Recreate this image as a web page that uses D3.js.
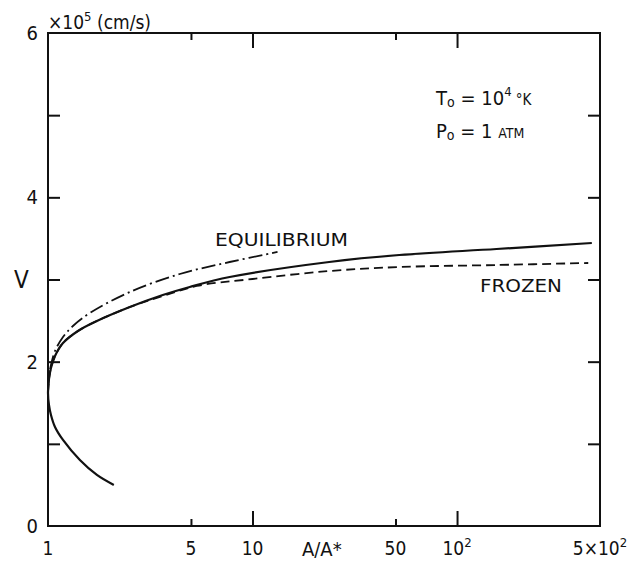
<!DOCTYPE html>
<html>
<head>
<meta charset="utf-8">
<script src="https://cdn.jsdelivr.net/npm/d3@7"></script>
<style>
  html, body { margin: 0; padding: 0; background: #fff; }
  svg { display: block; }
  text { font-family: "DejaVu Sans Condensed", "Liberation Sans Narrow", "Liberation Sans", sans-serif; fill: #111; }
</style>
</head>
<body>
<svg id="chart" width="635" height="562"></svg>
<script>
// Area ratio A/A* (log axis) and velocity V in units of 1e5 cm/s
const xTickValues = [1, 5, 10, 50, 100, 500];
const xTickLabels = ["1", "5", "10", "50", "10²", "5×10²"];
const yTickValues = [0, 1, 2, 3, 4, 5, 6];
const yTickLabels = ["0", "", "2", "", "4", "", "6"];

// Solid curve: subsonic branch, throat, then supersonic branch
const solidRatio = [2.098, 1.734, 1.432, 1.184, 1.082, 1.034, 1.011, 1.0, 1.011, 1.034, 1.082, 1.184, 1.401, 1.734, 2.512, 3.64, 4.93, 7.73, 23.7, 52.2, 156, 456];
const solidV     = [0.499, 0.621, 0.803, 1.047, 1.205, 1.351, 1.473, 1.619, 1.789, 1.923, 2.069, 2.227, 2.373, 2.495, 2.665, 2.811, 2.909, 3.030, 3.213, 3.298, 3.371, 3.444];

// Frozen flow (dashed)
const frozenRatio = [1.0, 1.011, 1.034, 1.082, 1.184, 1.401, 1.734, 2.512, 3.64, 5.33, 10, 23.7, 52.2, 156, 438];
const frozenV     = [1.619, 1.789, 1.923, 2.069, 2.227, 2.373, 2.495, 2.665, 2.799, 2.921, 3.006, 3.103, 3.152, 3.176, 3.201];

// Equilibrium flow (dash-dot)
const equilRatio = [1.0, 1.011, 1.034, 1.082, 1.184, 1.324, 1.603, 2.512, 4.41, 7.73, 13.25];
const equilV     = [1.619, 1.813, 1.959, 2.130, 2.300, 2.434, 2.592, 2.848, 3.067, 3.213, 3.335];

const svg = d3.select("#chart");
const plotLeft = 48, plotRight = 600, plotTop = 33, plotBottom = 526;

const x = d3.scaleLog().domain([1, 500]).range([plotLeft, plotRight]);
const y = d3.scaleLinear().domain([0, 6]).range([plotBottom, plotTop]);

// frame
svg.append("rect")
  .attr("x", plotLeft).attr("y", plotTop)
  .attr("width", plotRight - plotLeft).attr("height", plotBottom - plotTop)
  .attr("fill", "none").attr("stroke", "#111").attr("stroke-width", 2);

// x ticks (inside), long at decades, short at 5 and 50
const xInner = [5, 10, 50, 100];
const tickLen = v => (v === 10 || v === 100) ? 15 : 7;
const bottomAxis = svg.append("g").attr("transform", `translate(0,${plotBottom})`)
  .call(d3.axisBottom(x).tickValues(xInner).tickSize(0).tickFormat(""));
bottomAxis.select(".domain").remove();
bottomAxis.selectAll(".tick line").attr("y2", d => -tickLen(d)).attr("stroke", "#111").attr("stroke-width", 2);

const topAxis = svg.append("g").attr("transform", `translate(0,${plotTop})`)
  .call(d3.axisTop(x).tickValues(xInner).tickSize(0).tickFormat(""));
topAxis.select(".domain").remove();
topAxis.selectAll(".tick line").attr("y2", d => tickLen(d)).attr("stroke", "#111").attr("stroke-width", 2);

// x tick labels
svg.append("g").selectAll("text").data(xTickValues).join("text")
  .attr("x", d => x(d)).attr("y", 555)
  .attr("text-anchor", "middle").attr("font-size", 19)
  .each(function(d, i) {
    const t = d3.select(this);
    const lab = xTickLabels[i];
    if (lab.endsWith("²")) {
      t.append("tspan").text(lab.slice(0, -1));
      t.append("tspan").attr("dy", -8).attr("font-size", 13).text("2");
    } else {
      t.text(lab);
    }
  });

// y ticks (inside) on both sides
const yInner = [1, 2, 3, 4, 5];
const leftAxis = svg.append("g").attr("transform", `translate(${plotLeft},0)`)
  .call(d3.axisLeft(y).tickValues(yInner).tickSize(-12).tickFormat(""));
leftAxis.select(".domain").remove();
leftAxis.selectAll(".tick line").attr("stroke", "#111").attr("stroke-width", 2);

const rightAxis = svg.append("g").attr("transform", `translate(${plotRight},0)`)
  .call(d3.axisRight(y).tickValues(yInner).tickSize(-12).tickFormat(""));
rightAxis.select(".domain").remove();
rightAxis.selectAll(".tick line").attr("stroke", "#111").attr("stroke-width", 2);

// y tick labels
svg.append("g").selectAll("text").data(yTickValues.filter((d, i) => yTickLabels[i] !== "")).join("text")
  .attr("x", 38).attr("y", d => y(d) + 7)
  .attr("text-anchor", "end").attr("font-size", 20)
  .text(d => yTickLabels[yTickValues.indexOf(d)]);

// unit label
const unit = svg.append("text").attr("x", 48).attr("y", 29).attr("font-size", 19);
unit.append("tspan").text("×10");
unit.append("tspan").attr("dy", -8).attr("font-size", 13).text("5");
unit.append("tspan").attr("dy", 8).text(" (cm/s)");

// axis titles
svg.append("text").attr("x", 14).attr("y", 288).attr("font-size", 24).text("V");
svg.append("text").attr("x", 302).attr("y", 556).attr("font-size", 20).text("A/A*");

// curves
const line = d3.line().x(d => x(d[0])).y(d => y(d[1])).curve(d3.curveCatmullRom.alpha(0.5));
const pts = (a, b) => a.map((v, i) => [v, b[i]]);

svg.append("path").datum(pts(frozenRatio, frozenV))
  .attr("d", line).attr("fill", "none").attr("stroke", "#111")
  .attr("stroke-width", 1.8).attr("stroke-dasharray", "9,5");

svg.append("path").datum(pts(equilRatio, equilV))
  .attr("d", line).attr("fill", "none").attr("stroke", "#111")
  .attr("stroke-width", 1.8).attr("stroke-dasharray", "14,4,2,4");

svg.append("path").datum(pts(solidRatio, solidV))
  .attr("d", line).attr("fill", "none").attr("stroke", "#111")
  .attr("stroke-width", 2.2);

// curve labels
svg.append("text").attr("x", 215).attr("y", 246).attr("font-size", 18)
  .attr("textLength", 133).attr("lengthAdjust", "spacingAndGlyphs").text("EQUILIBRIUM");
svg.append("text").attr("x", 480).attr("y", 292).attr("font-size", 18)
  .attr("textLength", 82).attr("lengthAdjust", "spacingAndGlyphs").text("FROZEN");

// stagnation conditions
const tLab = svg.append("text").attr("x", 436).attr("y", 105).attr("font-size", 20);
tLab.append("tspan").text("T");
tLab.append("tspan").attr("font-size", 14).attr("dy", 2).text("o");
tLab.append("tspan").attr("dy", -2).text(" = 10");
tLab.append("tspan").attr("font-size", 13).attr("dy", -9).text("4");
tLab.append("tspan").attr("dy", 9).attr("font-size", 15).text("  °K");

const pLab = svg.append("text").attr("x", 436).attr("y", 138).attr("font-size", 20);
pLab.append("tspan").text("P");
pLab.append("tspan").attr("font-size", 14).attr("dy", 2).text("o");
pLab.append("tspan").attr("dy", -2).text(" = 1  ");
pLab.append("tspan").attr("font-size", 14).text("ATM");
</script>
</body>
</html>
